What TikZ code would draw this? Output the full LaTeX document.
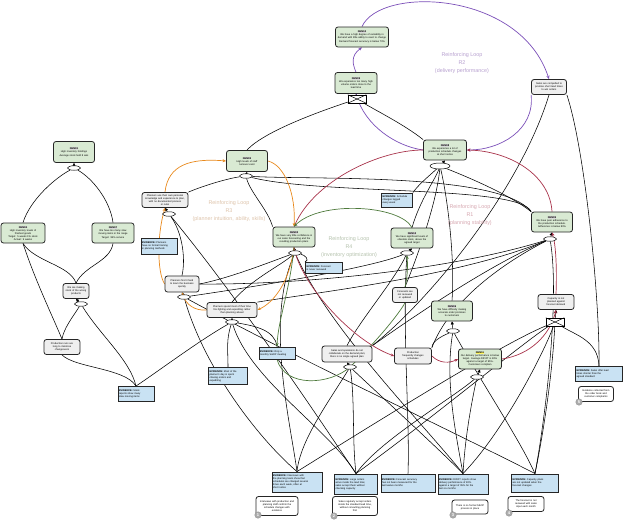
\documentclass[tikz,border=0pt]{standalone}
\usepackage{fontspec}
\setmainfont{Liberation Sans}
\usetikzlibrary{shapes.geometric,arrows.meta}
\definecolor{demg}{HTML}{D9EAD3}
\definecolor{boxg}{HTML}{EFEFEF}
\definecolor{noteb}{HTML}{C9E2F3}
\definecolor{cpur}{HTML}{7B4FB8}
\definecolor{cora}{HTML}{E8891C}
\definecolor{cred}{HTML}{A8324A}
\definecolor{cgrn}{HTML}{4E7A3C}
\definecolor{lpur}{HTML}{B7A0CF}
\definecolor{lora}{HTML}{DDC3AA}
\definecolor{lred}{HTML}{D6A7B0}
\definecolor{lgrn}{HTML}{B5C2AD}
\pgfdeclarelayer{bg}
\pgfsetlayers{bg,main}
\newcommand{\ttl}[1]{{\setlength{\fboxsep}{0.3pt}\colorbox{black!15}{\textbf{#1}}}}
\newcommand{\ttly}[1]{{\setlength{\fboxsep}{0.3pt}\colorbox{yellow!60}{\textbf{#1}}}}
\newcommand{\ev}{\textbf{EVIDENCE:} }
\begin{document}
\begin{tikzpicture}[x=1pt,y=-1pt,
 box/.style={draw=black!85, line width=0.8pt, rounded corners=2.5pt, align=center, inner sep=1pt, font=\fontsize{2.5}{3}\selectfont},
 dem/.style={box, fill=demg},
 gry/.style={box, fill=boxg},
 wnote/.style={box, fill=white},
 note/.style={draw=black!85, line width=0.9pt, fill=noteb, align=left, inner sep=1pt, font=\fontsize{2.5}{3}\selectfont},
 ell/.style={ellipse, draw, fill=white, line width=0.5pt, minimum width=13pt, minimum height=4.5pt, inner sep=0pt},
 bowt/.style={draw, fill=white, line width=0.5pt, minimum width=18pt, minimum height=8pt, inner sep=0pt},
 lnk/.style={line width=0.55pt, black},
 tip/.style={-{Triangle[length=3pt,width=3pt]}, line width=0.5pt},
 carr/.style={line width=0.7pt, -{Stealth[length=3.5pt,width=3pt]}},
 looplab/.style={align=center, font=\fontsize{5.4}{7.6}\selectfont},
 numc/.style={circle, fill=gray!65, draw=gray!85, text=white, inner sep=0pt, minimum size=6.5pt, font=\fontsize{4}{4}\selectfont\bfseries}
]
\useasboundingbox (0,0) rectangle (624,523);

% ---------- green DEM nodes
\node[dem, text width=51pt, minimum height=20pt] (DEM10) at (362,37) {\ttl{DEM10}\\ We have a high degree of variability in\\ demand with little ability to react to change\\[1pt] Demand forecast accuracy is below 70\%};
\node[dem, text width=40pt, minimum height=21pt] (DEM09) at (356,83) {\ttl{DEM09}\\ We experience too many high\\ volume orders close to the\\ lead time};
\node[dem, text width=41pt, minimum height=20pt] (DEM08) at (445,150) {\ttl{DEM08}\\ We experience a lot of\\ production schedule changes\\ at short notice};
\node[dem, text width=39pt, minimum height=21pt] (DEM03) at (247,161) {\ttl{DEM03}\\ High levels of staff\\ turnover exist};
\node[dem, text width=39pt, minimum height=21pt] (DEM01) at (74,152) {\ttl{DEM01}\\ High inventory holdings\\[1pt] Average stock held 8 wks};
\node[dem, text width=42pt, minimum height=20pt] (DEM04) at (23,233) {\ttl{DEM04}\\ High inventory levels of\\ finished goods\\ Target: 5 weeks FG stock\\ Actual: 9 weeks};
\node[dem, text width=40pt, minimum height=20pt] (DEM07) at (113,233) {\ttl{DEM07}\\ We have too many slow\\ moving items in the range\\[1pt] Target: 95\% service};
\node[dem, text width=40pt, minimum height=20pt] (DEM02) at (294,237) {\ttl{DEM02}\\ We have very little confidence in\\ our sales forecasting and the\\ resulting production plans};
\node[dem, text width=39pt, minimum height=20pt] (DEM05) at (552,222) {\ttl{DEM05}\\ We have poor adherence to\\ the production schedule.\\ Adherence is below 80\%};
\node[dem, text width=40pt, minimum height=20pt] (DEMc) at (412,238) {\ttl{DEM12}\\ We have significant levels of\\ obsolete stock, above the\\ agreed target};
\node[dem, text width=39pt, minimum height=20pt] (DEM06) at (452,311) {\ttl{DEM06}\\ We have difficulty making\\ accurate order promises\\ to customers};
\node[dem, text width=41pt, minimum height=20pt] (DEM11) at (480,359) {\ttly{DEM11}\\ Our delivery performance is below\\ target. Average DIFOT is 82\%\\ against a target of 95\%.\\ Customers complain};

% ---------- grey nodes
\node[gry, text width=33pt, minimum height=15pt] (a) at (549,87) {Sales are compelled to\\ promise short lead times\\ to win orders};
\node[gry, text width=44pt, minimum height=15pt] (b) at (165,200) {Planners use their own personal\\ knowledge and experience to plan,\\ with no documented process\\ or rules};
\node[gry, text width=32pt, minimum height=16pt] (c) at (182,284) {Planners find it hard\\ to learn the business\\ quickly};
\node[gry, text width=24pt, minimum height=15pt] (d) at (76,291) {We are making\\ stock of the wrong\\ products};
\node[gry, text width=34pt, minimum height=15pt] (e) at (62,347) {Production runs are\\ long to minimise\\ changeovers};
\node[gry, text width=48pt, minimum height=15pt] (f) at (232,310) {Planners spend most of their time\\ fire-fighting and expediting rather\\ than planning ahead};
\node[gry, text width=48pt, minimum height=16pt] (g) at (347,354) {Sales and operations do not\\ collaborate on the demand plan;\\ there is no single agreed plan};
\node[gry, text width=35pt, minimum height=16pt] (h) at (413,356) {Production\\ frequently changes\\ schedules};
\node[gry, text width=23pt, minimum height=15pt] (i) at (405,295) {Forecasts are\\ not reviewed\\ or updated};
\node[gry, text width=34pt, minimum height=15pt] (j) at (556,302) {Capacity is not\\ planned against\\ forecast demand};

% ---------- blue notes
\node[note, text width=34pt, minimum height=16pt] (B1) at (159,246) {\ev Planners\\ have no formal training\\ in planning methods};
\node[note, text width=34pt, minimum height=15pt] (B2) at (136,394) {\ev Stock\\ reports show many\\ slow moving items};
\node[note, text width=37pt, minimum height=17pt] (B3) at (228,376) {\ev Most of the\\ planner's day is spent\\ chasing orders and\\ expediting};
\node[note, text width=34pt, minimum height=12pt] (B4) at (277,353) {\ev Only a\\ monthly S\&OP meeting};
\node[note, text width=35pt, minimum height=11pt] (B5) at (324,268) {\ev Forecast\\ is never reviewed};
\node[note, text width=29pt, minimum height=14pt] (B6) at (397,200) {\ev Schedule\\ changes logged\\ every week};
\node[note, text width=45pt, minimum height=15pt] (B7) at (599,374) {\ev Sales offer lead\\ times shorter than the\\ agreed standard};
\node[note, text width=48pt, minimum height=20pt] (B8) at (297,482) {\ev Interviews with\\ the planning team show that\\ schedules are changed several\\ times each week, often at\\ short notice};
\node[note, text width=41pt, minimum height=20pt] (B9) at (356,484) {\ev Large orders\\ arrive inside the lead time;\\ sales accept them without\\ checking capacity};
\node[note, text width=52pt, minimum height=18pt] (B10) at (408,483) {\ev Forecast accuracy\\ has not been measured for the\\ last twelve months};
\node[note, text width=48pt, minimum height=20pt] (B11) at (463,484) {\ev DIFOT reports show\\ delivery performance of 82\%\\ against a target of 95\% for the\\ last six months};
\node[note, text width=45pt, minimum height=18pt] (B12) at (535,483) {\ev Capacity plans\\ are not updated when the\\ forecast changes};

% ---------- white numbered notes
\node[wnote, text width=40pt, minimum height=19pt] (N1) at (277,506) {Interviews with production and\\ planning staff confirm the\\ schedule changes with\\ evidence};
\node[wnote, text width=43pt, minimum height=19pt] (N2) at (355,506) {Sales regularly accept orders\\ inside the standard lead time,\\ without consulting planning\\ first};
\node[wnote, text width=34pt, minimum height=14pt] (N3) at (470,507) {There is no formal S\&OP\\ process in place};
\node[wnote, text width=34pt, minimum height=15pt] (N4) at (526,504) {The forecast is not\\ reviewed with sales\\ input each month};
\node[wnote, text width=33pt, minimum height=15pt] (N5) at (596,394) {Evidence collected from\\ the order book and\\ customer complaints};
\node[numc] (n1) at (258,515) {1};
\node[numc] (n2) at (334,516) {2};
\node[numc] (n3) at (453,515) {3};
\node[numc] (n4) at (509,513) {4};
\node[numc] (n5) at (579,402) {5};

% ---------- junctions
\node[ell] (eDEM01) at (74,168) {};
\node[ell] (eb) at (169,214) {};
\node[ell] (ed) at (81,304) {};
\node[ell] (eDEM03) at (246,176) {};
\node[ell] (ec) at (184,297) {};
\node[ell] (eDEM02) at (295,253) {};
\node[ell] (ef) at (232,322) {};
\node[ell] (eg) at (350,367) {};
\node[ell] (eDEMc) at (407,253) {};
\node[ell, minimum width=20pt, minimum height=6pt] (eDEM08) at (440,166) {};
\node[ell] (eDEM05) at (550,239) {};
\node[ell] (eDEM06) at (453,331) {};
\node[ell] (eDEM11) at (477,377) {};
\node[bowt] (bow9) at (357,99) {};
\node[bowt] (bowj) at (555,322) {};
\foreach \bw in {bow9,bowj}{
  \draw[line width=0.5pt] (\bw.north west) -- (\bw.center) -- (\bw.south west);
  \draw[line width=0.5pt] (\bw.north east) -- (\bw.center) -- (\bw.south east);
}

% ---------- loop labels
\node[looplab, text=lpur] (R2) at (462,63) {Reinforcing Loop\\R2\\(delivery performance)};
\node[looplab, text=lora] (R3) at (229,211) {Reinforcing Loop\\R3\\(planner intuition, ability, skills)};
\node[looplab, text=lred] (R1) at (470,215) {Reinforcing Loop\\R1\\(planning stability)};
\node[looplab, text=lgrn] (R4) at (349,247) {Reinforcing Loop\\R4\\(inventory optimization)};

\begin{pgfonlayer}{bg}
% junction arrows
\draw[tip] (eDEM01) -- (DEM01.south);
\draw[tip] (eb) -- (b.south);
\draw[tip] (ed) -- (d.south);
\draw[tip] (eDEM03) -- (DEM03.south);
\draw[tip] (ec) -- (c.south);
\draw[tip] (eDEM02) -- (DEM02.south);
\draw[tip] (ef) -- (f.south);
\draw[tip] (eg) -- (g.south);
\draw[tip] (eDEMc) -- (DEMc.south);
\draw[tip] (eDEM08) -- (DEM08.south);
\draw[tip] (eDEM05) -- (DEM05.south);
\draw[tip] (eDEM06) -- (DEM06.south);
\draw[tip] (eDEM11) -- (DEM11.south);
\draw[tip] (bow9) -- (DEM09.south);
\draw[tip] (bowj) -- (j.south);

% black links
\draw[lnk] (DEM04.north) .. controls (30,200) and (55,178) .. (eDEM01);
\draw[lnk] (DEM07.north) .. controls (110,200) and (92,178) .. (eDEM01);
\draw[lnk] (DEM04.south) .. controls (35,262) and (70,265) .. (d.north);
\draw[lnk] (DEM07.south) .. controls (110,262) and (85,265) .. (d.north);
\draw[lnk] (DEM04.south) .. controls (35,280) and (52,315) .. (e.north);
\draw[lnk] (ed) .. controls (72,318) and (64,328) .. (e.north);
\draw[lnk] (ed) .. controls (100,335) and (130,360) .. (B2.north);
\draw[lnk] (e.south) .. controls (75,368) and (125,368) .. (B2.north);
\draw[lnk] (ef) .. controls (200,340) and (160,370) .. (B2.north);
\draw[lnk] (eb) .. controls (182,232) and (186,258) .. (c.north);
\draw[lnk] (eb) .. controls (240,300) and (320,420) .. (B9.north);
\draw[lnk] (b.north east) .. controls (205,185) and (230,178) .. (eDEM03);
\draw[lnk] (DEM03.north) .. controls (265,130) and (330,108) .. (bow9);
\draw[lnk] (DEM08.north west) .. controls (405,125) and (375,110) .. (bow9);
\draw[lnk] (DEM02.north west) .. controls (268,210) and (250,192) .. (eDEM03);
\draw[lnk] (eDEM03) .. controls (320,195) and (520,185) .. (DEM05.north west);
\draw[lnk] (eDEM03) .. controls (310,180) and (500,172) .. (DEM05.north west);
\draw[lnk] (DEMc.north) .. controls (420,200) and (435,180) .. (eDEM08);
\draw[lnk] (i.north) .. controls (420,250) and (437,200) .. (eDEM08);
\draw[lnk] (B6.north east) .. controls (418,185) and (430,175) .. (eDEM08);
\draw[lnk] (DEM05.north west) .. controls (510,195) and (470,178) .. (eDEM08);
\draw[lnk] (DEM06.north) .. controls (455,260) and (448,200) .. (eDEM08);
\draw[lnk] (f.north) .. controls (250,280) and (280,266) .. (eDEM02);
\draw[lnk] (c.east) .. controls (230,278) and (270,262) .. (eDEM02);
\draw[lnk] (B5.north west) .. controls (310,260) and (305,255) .. (eDEM02);
\draw[lnk] (ec) .. controls (260,286) and (370,268) .. (eDEMc);
\draw[lnk] (g.north) .. controls (360,320) and (395,280) .. (eDEMc);
\draw[lnk] (c.east) .. controls (300,285) and (450,270) .. (eDEM05);
\draw[lnk] (f.north east) .. controls (320,292) and (460,276) .. (eDEM05);
\draw[lnk] (g.north east) .. controls (420,312) and (490,265) .. (eDEM05);
\draw[lnk] (h.north east) .. controls (450,300) and (505,262) .. (eDEM05);
\draw[lnk] (a.south) .. controls (520,190) and (430,300) .. (g.north east);
\draw[lnk] (a.south east) .. controls (585,150) and (600,300) .. (B7.north);
\draw[lnk] (bowj) .. controls (575,335) and (598,340) .. (B7.north);
\draw[lnk] (B8.north) .. controls (380,420) and (500,345) .. (bowj);
\draw[lnk] (B9.north) .. controls (430,420) and (520,345) .. (bowj);
\draw[lnk] (B11.north) .. controls (505,430) and (545,350) .. (bowj);
\draw[lnk] (bowj) .. controls (552,380) and (542,440) .. (B12.north);
\draw[lnk] (eDEM05) .. controls (560,300) and (545,420) .. (B12.north);
\draw[lnk] (eDEM11) .. controls (470,410) and (465,440) .. (B11.north);
\draw[lnk] (eDEM11) .. controls (450,400) and (380,440) .. (B9.north);
\draw[lnk] (eDEM06) .. controls (445,380) and (455,430) .. (B11.north);
\draw[lnk] (eDEM06) .. controls (480,380) and (520,440) .. (B12.north);
\draw[lnk] (h.north east) .. controls (432,340) and (445,335) .. (eDEM06);
\draw[lnk] (eg) .. controls (355,400) and (352,440) .. (B9.north);
\draw[lnk] (eg) .. controls (330,400) and (300,440) .. (B8.north);
\draw[lnk] (eg) .. controls (385,400) and (440,450) .. (B11.north);
\draw[lnk] (eDEM02) .. controls (265,320) and (290,420) .. (B8.north);
\draw[lnk] (eDEM02) .. controls (330,330) and (420,420) .. (B11.north);
\draw[lnk] (ec) .. controls (205,370) and (260,440) .. (B8.north);
\draw[lnk] (ec) .. controls (300,360) and (450,430) .. (B12.north);
\draw[lnk] (eDEMc) .. controls (402,330) and (410,420) .. (B10.north);
\draw[lnk] (ef) .. controls (226,340) and (228,350) .. (B3.north);
\draw[lnk] (ef) .. controls (255,326) and (275,330) .. (B4.north);
\draw[lnk] (ef) .. controls (250,380) and (330,430) .. (B9.north);

% R2 purple
\draw[carr,cpur] (DEM10.north) .. controls (380,-14) and (520,-10) .. (a.north);
\draw[carr,cpur] (DEM09.north) .. controls (353,65) and (350,56) .. (DEM10.south);
\draw[carr,cpur] (a.south west) .. controls (535,130) and (500,150) .. (DEM08.east);
\draw[carr,cpur] (DEM08.west) .. controls (395,146) and (365,125) .. (DEM09.south);
% R1 red
\draw[carr,cred] (DEM08.west) .. controls (380,150) and (315,180) .. (DEM02.north);
\draw[carr,cred] (DEM05.north) .. controls (550,175) and (510,151) .. (DEM08.east);
\draw[carr,cred] (j.north) .. controls (557,270) and (556,245) .. (DEM05.south);
\draw[carr,cred] (DEM11.east) .. controls (530,355) and (550,335) .. (j.south);
\draw[carr,cred] (h.east) .. controls (440,364) and (450,363) .. (DEM11.west);
\draw[carr,cred] (DEM02.south) .. controls (300,282) and (350,340) .. (h.west);
% R3 orange
\draw[carr,cora] (b.north) .. controls (168,165) and (190,158) .. (DEM03.west);
\draw[carr,cora] (DEM03.east) .. controls (285,165) and (296,195) .. (DEM02.north);
\draw[carr,cora] (DEM02.south) .. controls (290,280) and (275,302) .. (f.east);
\draw[carr,cora] (f.west) .. controls (195,311) and (186,305) .. (c.south);
\draw[carr,cora] (c.west) .. controls (157,272) and (157,235) .. (b.south);
% R4 green
\draw[carr,cgrn] (DEMc.north) .. controls (400,205) and (320,200) .. (DEM02.north);
\draw[carr,cgrn] (DEM02.south) .. controls (290,290) and (278,320) .. (B4.north);
\draw[line width=0.7pt,cgrn] (B4.south) .. controls (285,388) and (330,385) .. (eg.center) .. controls (368,350) and (395,320) .. (i.south);
\draw[carr,cgrn] (i.north) .. controls (407,280) and (408,268) .. (eDEMc.south);
\end{pgfonlayer}
\end{tikzpicture}
\end{document}
